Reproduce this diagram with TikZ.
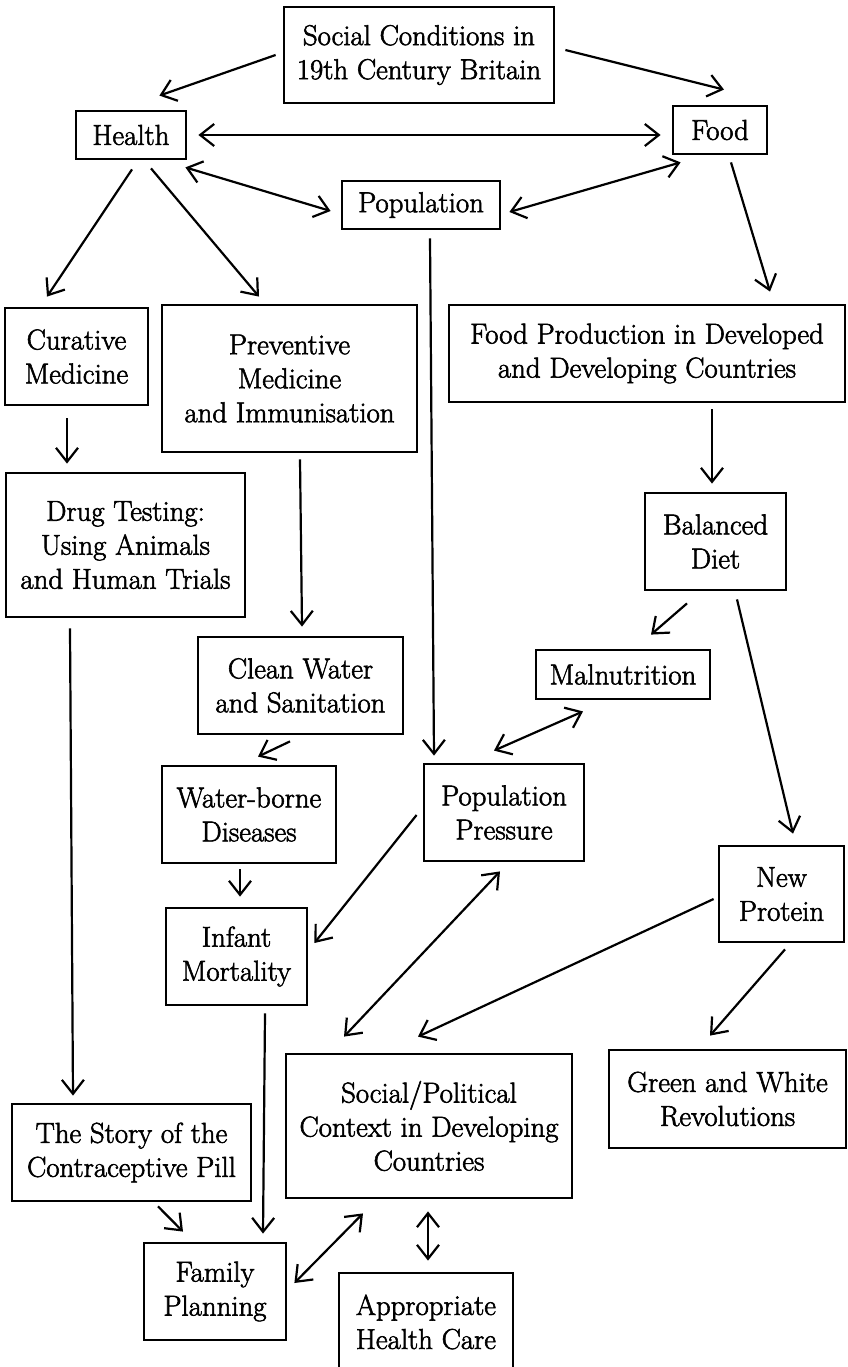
\documentclass[tikz,border=0pt]{standalone}
\usepackage{fontspec}
\setmainfont{Latin Modern Roman}[FakeBold=2]
\usetikzlibrary{arrows.meta,calc}
\begin{document}
\begin{tikzpicture}[x=1pt,y=-1pt,
  box/.style={draw, line width=2.8pt, align=center, inner sep=0pt,
    font=\fontsize{28.8}{34}\selectfont},
  tip/.tip={Straight Barb[length=14pt,width=22pt]},
  link/.style={line width=2.2pt, -tip},
  both/.style={line width=2.2pt, tip-tip}]
\useasboundingbox (0,0) rectangle (847,1367);

% boxes
\node[box, minimum width=270pt, minimum height=96pt] (social) at (419,55) {Social Conditions in\\19th Century Britain};
\node[box, minimum width=110pt, minimum height=48pt] (health) at (131,135) {Health};
\node[box, minimum width=94pt, minimum height=48pt] (food) at (720,130) {Food};
\node[box, minimum width=158pt, minimum height=48pt] (pop) at (421,205) {Population};
\node[box, minimum width=143pt, minimum height=97pt] (curative) at (76.5,356.5) {Curative\\Medicine};
\node[box, minimum width=255pt, minimum height=147pt] (preventive) at (289.5,378.5) {Preventive\\Medicine\\and Immunisation};
\node[box, minimum width=396pt, minimum height=97pt] (foodprod) at (647,353.5) {Food Production in Developed\\and Developing Countries};
\node[box, minimum width=239pt, minimum height=144pt] (drug) at (125.5,545) {Drug Testing:\\Using Animals\\and Human Trials};
\node[box, minimum width=141pt, minimum height=97pt] (balanced) at (715.5,541.5) {Balanced\\Diet};
\node[box, minimum width=205pt, minimum height=97pt] (clean) at (300.5,685.5) {Clean Water\\and Sanitation};
\node[box, minimum width=174pt, minimum height=49pt] (malnut) at (623,674.5) {Malnutrition};
\node[box, minimum width=174pt, minimum height=97pt] (water) at (249,814.5) {Water-borne\\Diseases};
\node[box, minimum width=160pt, minimum height=97pt] (pp) at (504,812.5) {Population\\Pressure};
\node[box, minimum width=125pt, minimum height=96pt] (newprot) at (781.5,894) {New\\Protein};
\node[box, minimum width=141pt, minimum height=97pt] (infant) at (236.5,956.5) {Infant\\Mortality};
\node[box, minimum width=286pt, minimum height=144pt] (socpol) at (429,1126) {Social/Political\\Context in Developing\\Countries};
\node[box, minimum width=237pt, minimum height=98pt] (green) at (727.5,1099) {Green and White\\Revolutions};
\node[box, minimum width=239pt, minimum height=97pt] (story) at (131.5,1152.5) {The Story of the\\Contraceptive Pill};
\node[box, minimum width=142pt, minimum height=97pt] (family) at (215,1291.5) {Family\\Planning};
\node[box, minimum width=174pt, minimum height=98pt] (approp) at (426,1322) {Appropriate\\Health Care};

% connectors
\draw[link] ($(social.west)+(-7,0)$) -- ($(health.north east)+(-28,-14)$);
\draw[link] ($(social.east)+(10,-5)$) -- ($(food.north)+(4,-15)$);
\draw[both] ($(health.east)+(11,0)$) -- ($(food.west)+(-11,5)$);
\draw[both] ($(health.south east)+(-2,7)$) -- ($(pop.west)+(-10,6)$);
\draw[both] ($(pop.east)+(8,7)$) -- ($(food.south west)+(9,7)$);
\draw[link] ($(health.south)+(1,9)$) -- ($(curative.north)+(-29.5,-10)$);
\draw[link] ($(health.south)+(20,8)$) -- ($(preventive.north)+(-30.5,-7)$);
\draw[link] ($(food.south)+(11,7)$) -- ($(foodprod.north)+(123,-12)$);
\draw[link] ($(pop.south)+(9,8)$) -- ($(pp.north)+(-70,-7)$);
\draw[link] ($(curative.south)+(-9.5,12)$) -- ($(drug.north)+(-58.5,-8)$);
\draw[link] ($(preventive.south)+(10.5,6)$) -- ($(clean.north)+(1.5,-9)$);
\draw[link] ($(foodprod.south)+(65,6)$) -- ($(balanced.north)+(-3.5,-8)$);
\draw[link] ($(balanced.south)+(-28.5,12)$) -- ($(malnut.north)+(28,-14)$);
\draw[link] ($(balanced.south)+(21.5,8)$) -- ($(newprot.north)+(11.5,-11)$);
\draw[link] ($(clean.south)+(-10.5,6)$) -- ($(water.north)+(9,-8)$);
\draw[both] ($(malnut.south)+(-40,11)$) -- ($(pp.north)+(-10,-12)$);
\draw[link] ($(water.south)+(-9,5)$) -- ($(infant.north)+(3.5,-10)$);
\draw[link] ($(pp.west)+(-6,2.5)$) -- ($(infant.east)+(6,-13.5)$);
\draw[both] ($(pp.south)+(-4,9)$) -- ($(socpol.north)+(-85,-16)$);
\draw[link] ($(newprot.west)+(-4,5)$) -- ($(socpol.north)+(-11,-16)$);
\draw[link] ($(newprot.south)+(3.5,6)$) -- ($(green.north)+(-17.5,-13)$);
\draw[link] ($(drug.south)+(-55.5,10)$) -- ($(story.north)+(-58.5,-7)$);
\draw[link] ($(infant.south)+(28.5,7)$) -- ($(family.north)+(48,-8)$);
\draw[link] ($(story.south)+(26.5,4)$) -- ($(family.north)+(-32,-10)$);
\draw[both] ($(family.east)+(7,-8.5)$) -- ($(socpol.south)+(-66,14)$);
\draw[both] ($(socpol.south)+(-1,12)$) -- ($(approp.north)+(2,-11)$);
\end{tikzpicture}
\end{document}
